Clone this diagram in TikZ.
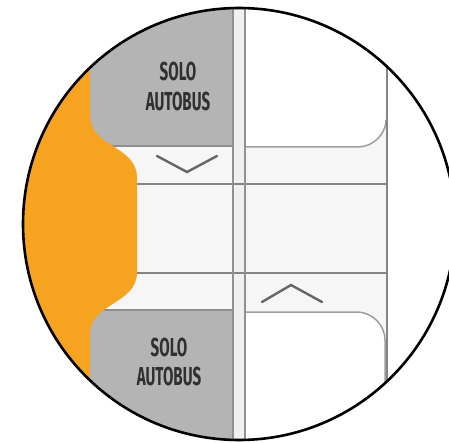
\documentclass[tikz,border=0pt]{standalone}
\usepackage{fontspec}
\newfontfamily\lblfont{Fira Sans}[FakeStretch=0.58]
\definecolor{orng}{HTML}{F6A321}
\definecolor{busgray}{HTML}{B4B4B4}
\definecolor{edgegray}{HTML}{8E8E8E}
\definecolor{linegray}{HTML}{858585}
\definecolor{stripgray}{HTML}{F6F6F6}
\definecolor{txtgray}{HTML}{303030}
\tikzset{
  laneline/.style={draw=linegray, line width=1.8pt},
  boxedge/.style={draw=linegray!80, line width=1.5pt},
  chev/.style={draw=black!60, line width=2.4pt, line cap=round, line join=miter},
  bustext/.style={font=\lblfont\bfseries\fontsize{26}{29}\selectfont, text=txtgray, inner sep=0pt, anchor=center}
}
\begin{document}
\begin{tikzpicture}[x=1pt,y=-1pt]
\useasboundingbox (0,0) rectangle (449,443);
\fill[white] (0,0) rectangle (449,443);
\begin{scope}
  \clip (239,224) circle (216);
  % light road surface
  \fill[stripgray] (0,0) rectangle (449,443);
  % bus-only gray blocks
  \fill[busgray] (80,0) rectangle (233,146);
  \fill[busgray] (80,310) rectangle (233,443);
  \draw[edgegray, line width=1.2pt] (100,146) -- (233,146);
  \draw[edgegray, line width=1.2pt] (100,310) -- (233,310);
  % right lane white boxes
  \fill[white] (244,0) -- (244,147) -- (358,147) .. controls (373,147) and (386,134) .. (386,120) -- (386,0) -- cycle;
  \draw[boxedge] (244,147) -- (358,147) .. controls (373,147) and (386,134) .. (386,120);
  \fill[white] (244,443) -- (244,312) -- (357,312) .. controls (372,312) and (385,325) .. (385,340) -- (385,443) -- cycle;
  \draw[boxedge] (244,312) -- (357,312) .. controls (372,312) and (385,325) .. (385,340) -- (385,443);
  % white area right of the lanes
  \fill[white] (388,0) rectangle (449,443);
  % center divider
  \fill[black!6] (233,0) rectangle (245,443);
  % orange area
  \fill[orng] (0,0) -- (90,0) -- (90,115) .. controls (90,148) and (137,145) .. (137,178)
     -- (137,272) .. controls (137,305) and (90,302) .. (90,335) -- (90,443) -- (0,443) -- cycle;
  % lane lines
  \draw[laneline] (137,184) -- (387,184);
  \draw[laneline] (137,273) -- (387,273);
  \draw[laneline] (387,0) -- (387,443);
  \draw[draw=linegray!90, line width=1.6pt] (233,0) -- (233,443);
  \draw[draw=linegray!90, line width=1.6pt] (245,0) -- (245,443);
  % chevrons
  \draw[chev] (157,156) -- (187,172) -- (217,156);
  \draw[chev] (262,302) -- (291,285) -- (322,302);
\end{scope}
\draw[black, line width=2.6pt] (239,224) circle (216);
% labels
\node[bustext] (t1) at (178,71) {SOLO};
\node[bustext] (t2) at (178,101) {AUTOBUS};
\node[bustext] (b1) at (169,347) {SOLO};
\node[bustext] (b2) at (169,376) {AUTOBUS};
\end{tikzpicture}
\end{document}
